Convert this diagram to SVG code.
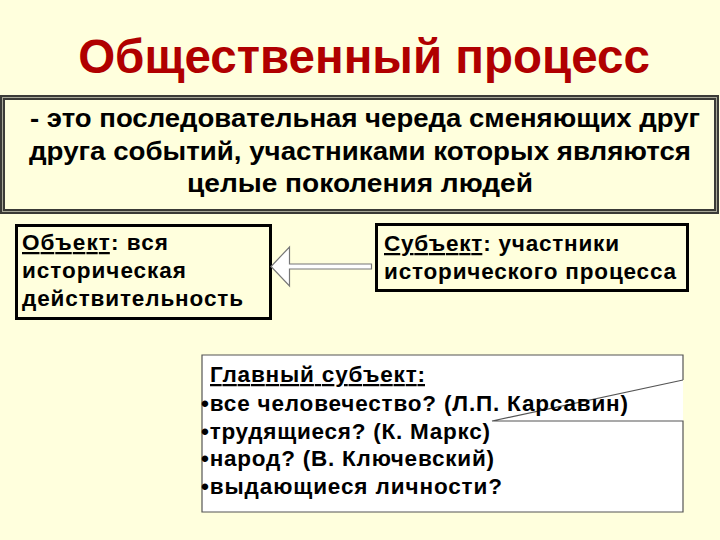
<svg xmlns="http://www.w3.org/2000/svg" width="720" height="540" viewBox="0 0 720 540">
<style>
.t{font-family:"Liberation Sans",Arial,sans-serif;font-weight:bold;fill:#000}
.b{font-size:22.5px}
.def{font-size:26.5px}
.box{fill:none;stroke:#000;stroke-width:3}
</style>
<rect width="720" height="540" fill="#FFFFDD"/>
<text class="t" x="364" y="73" text-anchor="middle" font-size="47.5" style="fill:#B00000">Общественный процесс</text>
<g id="definition">
<rect x="2.5" y="97.5" width="714" height="114" fill="#FFFFDD" stroke="#3a3a36" stroke-width="5"/>
<rect x="2.5" y="97.5" width="714" height="114" fill="none" stroke="#a8a898" stroke-width="1"/>
<text class="t def" x="365" y="127" text-anchor="middle" textLength="670" lengthAdjust="spacingAndGlyphs">- это последовательная череда сменяющих друг</text>
<text class="t def" x="360" y="160" text-anchor="middle" textLength="662" lengthAdjust="spacingAndGlyphs">друга событий, участниками которых являются</text>
<text class="t def" x="360" y="192" text-anchor="middle" textLength="346" lengthAdjust="spacingAndGlyphs">целые поколения людей</text>
</g>
<g id="object">
<rect x="16.5" y="225.5" width="254" height="93" fill="#FFFFDD" class="box"/>
<text class="t b" x="22" y="250" textLength="146"><tspan text-decoration="underline">Объект</tspan>: вся</text>
<text class="t b" x="22" y="278" textLength="164">историческая</text>
<text class="t b" x="22" y="306" textLength="221">действительность</text>
</g>
<g id="subject">
<rect x="376.5" y="224.5" width="311" height="66" fill="#FFFFDD" class="box"/>
<text class="t b" x="384" y="251" textLength="235"><tspan text-decoration="underline">Субъект</tspan>: участники</text>
<text class="t b" x="384" y="279" textLength="292">исторического процесса</text>
</g>
<g id="connectors">
<path d="M371.5,264 L289.5,264 L289.5,247 L271,266.5 L289.5,286 L289.5,269 L371.5,269 Z" fill="#fff" stroke="#777" stroke-width="1.2"/>
</g>
<g id="main-subject">
<rect x="202" y="355" width="481" height="157" fill="#fff"/>
<path d="M683,380 L683,355 L202,355 L202,512 L683,512 L683,421 L492,421 L683,380" fill="none" stroke="#555" stroke-width="1.2"/>
<text class="t b" x="210" y="382" text-decoration="underline" textLength="215">Главный субъект:</text>
<text class="t b" x="201" y="411" textLength="427">•все человечество? (Л.П. Карсавин)</text>
<text class="t b" x="201" y="439" textLength="289">•трудящиеся? (К. Маркс)</text>
<text class="t b" x="201" y="466" textLength="293">•народ? (В. Ключевский)</text>
<text class="t b" x="201" y="494" textLength="301">•выдающиеся личности?</text>
</g>
</svg>
